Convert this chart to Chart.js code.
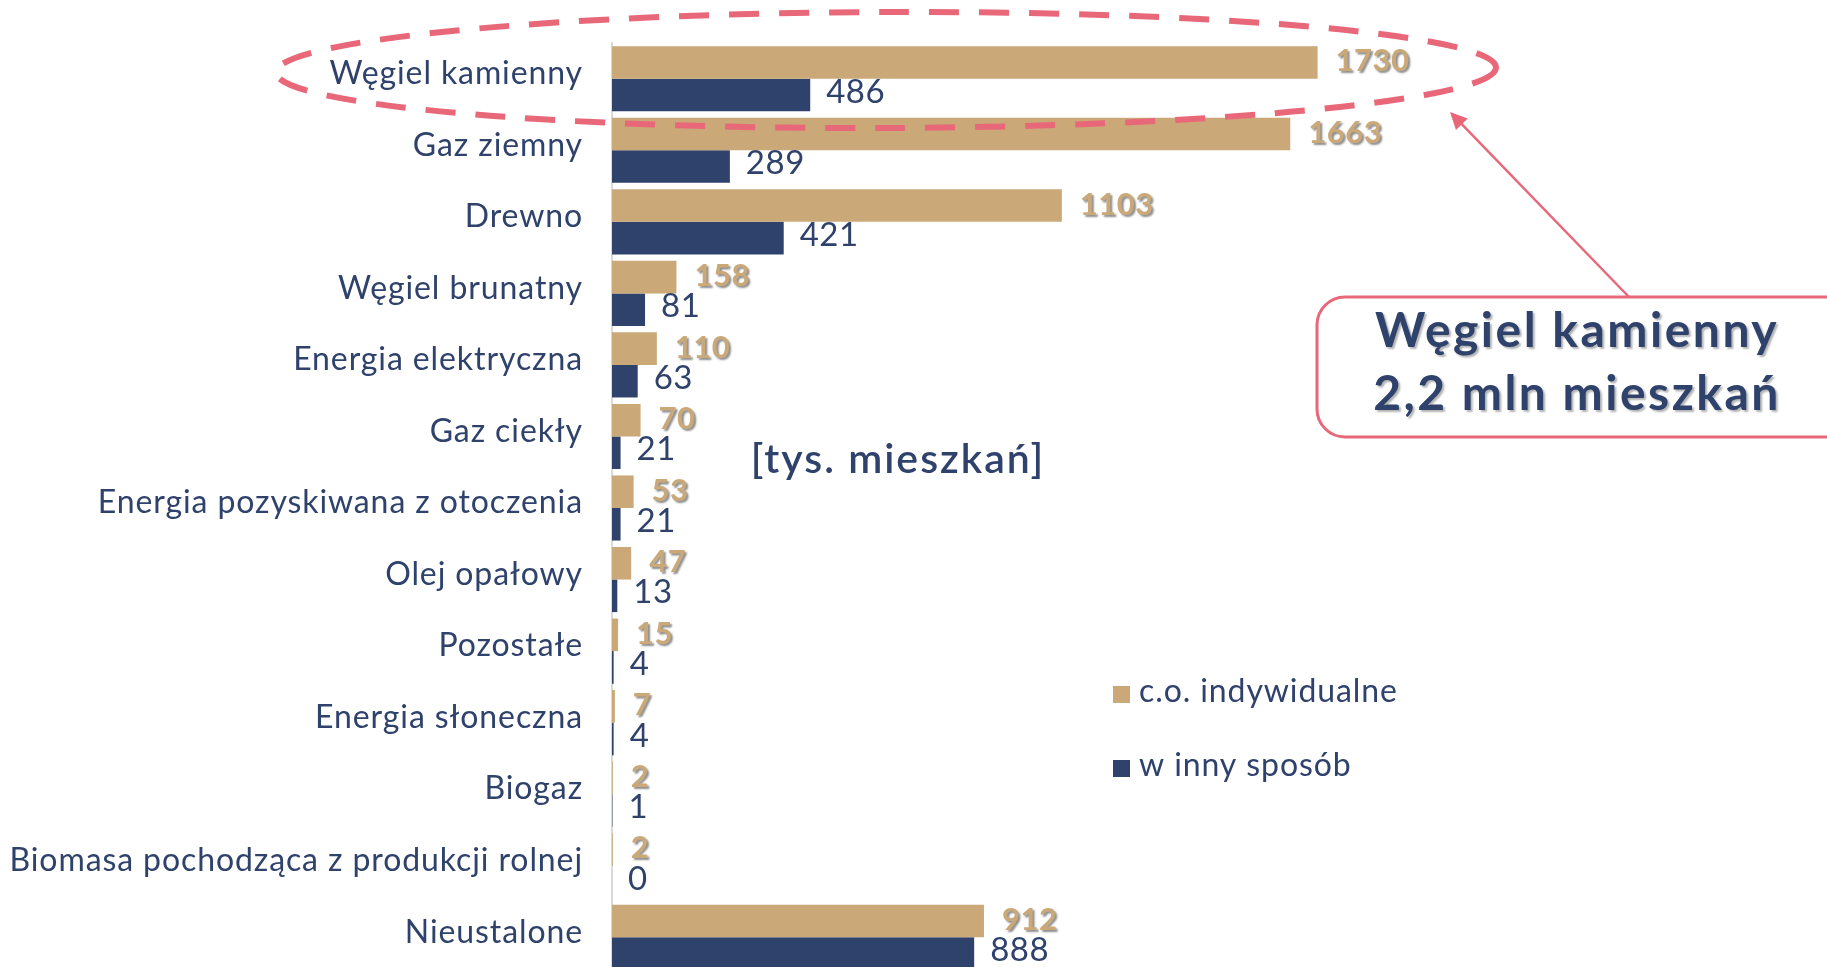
<!DOCTYPE html>
<html>
<head>
<meta charset="utf-8">
<script src="https://cdn.jsdelivr.net/npm/chart.js@4"></script>
<style>
  html, body { margin: 0; padding: 0; background: #fff; overflow: hidden; }
  #wrap { position: relative; width: 1827px; height: 975px; }
</style>
</head>
<body>
<div id="wrap"><canvas id="barChart"></canvas></div>
<script>
const categories = [
  "Węgiel kamienny", "Gaz ziemny", "Drewno", "Węgiel brunatny",
  "Energia elektryczna", "Gaz ciekły", "Energia pozyskiwana z otoczenia",
  "Olej opałowy", "Pozostałe", "Energia słoneczna", "Biogaz",
  "Biomasa pochodząca z produkcji rolnej", "Nieustalone"
];
const coIndywidualne = [1730, 1663, 1103, 158, 110, 70, 53, 47, 15, 7, 2, 2, 912];
const wInnySposob = [486, 289, 421, 81, 63, 21, 21, 13, 4, 4, 1, 0, 888];
const seriesNames = ["c.o. indywidualne", "w inny sposób"];

const GOLD = "#caa878";
const NAVY = "#2f426c";
const PINK = "#e8687a";
const FONT = "Lato, 'Open Sans', sans-serif";

// odstęp liter dla całego płótna
const spacing = {
  id: "spacing",
  beforeDraw(chart) {
    chart.ctx.letterSpacing = "0.9px";
  }
};

// etykiety wartości przy słupkach
const valueLabels = {
  id: "valueLabels",
  afterDatasetsDraw(chart) {
    const ctx = chart.ctx;
    chart.data.datasets.forEach((ds, di) => {
      const meta = chart.getDatasetMeta(di);
      meta.data.forEach((bar, i) => {
        ctx.save();
        ctx.textAlign = "left";
        ctx.textBaseline = "middle";
        ctx.letterSpacing = "0.5px";
        if (di === 0) {
          ctx.font = "bold 31px " + FONT;
          ctx.fillStyle = GOLD;
          ctx.shadowColor = "rgba(0,0,0,0.45)";
          ctx.shadowOffsetX = 2;
          ctx.shadowOffsetY = 2;
          ctx.shadowBlur = 2;
          ctx.fillText(String(ds.data[i]), bar.x + 18, bar.y - 1);
        } else {
          ctx.font = "33px " + FONT;
          ctx.fillStyle = NAVY;
          ctx.fillText(String(ds.data[i]), bar.x + 16, bar.y - 3);
        }
        ctx.restore();
      });
    });
  }
};

// legenda, podpis jednostek i adnotacja
const extras = {
  id: "extras",
  afterDraw(chart) {
    const ctx = chart.ctx;
    ctx.save();
    // legenda
    const colors = [GOLD, NAVY];
    seriesNames.forEach((name, i) => {
      const y = 695 + i * 74;
      ctx.fillStyle = colors[i];
      ctx.fillRect(1113, y - 9, 17, 17);
      ctx.fillStyle = NAVY;
      ctx.font = "32px " + FONT;
      ctx.letterSpacing = "0.9px";
      ctx.textBaseline = "middle";
      ctx.textAlign = "left";
      ctx.fillText(name, 1139, y - 3);
    });

    // jednostka
    ctx.font = "600 41px " + FONT;
    ctx.letterSpacing = "2px";
    ctx.fillStyle = NAVY;
    ctx.textAlign = "center";
    ctx.fillText("[tys. mieszkań]", 898, 460);

    // elipsa przerywana
    ctx.strokeStyle = PINK;
    ctx.lineWidth = 6;
    ctx.setLineDash([30, 20]);
    ctx.beginPath();
    ctx.ellipse(886, 70, 610, 58, -0.004, 0, Math.PI * 2);
    ctx.stroke();
    ctx.setLineDash([]);

    // strzałka
    const x0 = 1629, y0 = 297, x1 = 1450, y1 = 112;
    const ang = Math.atan2(y0 - y1, x0 - x1);
    ctx.lineWidth = 2.5;
    ctx.beginPath();
    ctx.moveTo(x0, y0);
    ctx.lineTo(x1 + 12 * Math.cos(ang), y1 + 12 * Math.sin(ang));
    ctx.stroke();
    ctx.fillStyle = PINK;
    ctx.beginPath();
    ctx.moveTo(x1, y1);
    ctx.lineTo(x1 + 19 * Math.cos(ang - 0.45), y1 + 19 * Math.sin(ang - 0.45));
    ctx.lineTo(x1 + 19 * Math.cos(ang + 0.45), y1 + 19 * Math.sin(ang + 0.45));
    ctx.closePath();
    ctx.fill();

    // ramka
    ctx.fillStyle = "#fff";
    ctx.lineWidth = 3;
    ctx.beginPath();
    ctx.roundRect(1317, 297, 560, 140, 28);
    ctx.fill();
    ctx.stroke();
    ctx.fillStyle = NAVY;
    ctx.font = "bold 48px " + FONT;
    ctx.letterSpacing = "2.5px";
    ctx.textAlign = "center";
    ctx.textBaseline = "alphabetic";
    ctx.shadowColor = "rgba(0,0,0,0.3)";
    ctx.shadowOffsetX = 2;
    ctx.shadowOffsetY = 2;
    ctx.shadowBlur = 2;
    ctx.fillText("Węgiel kamienny", 1577, 347);
    ctx.fillText("2,2 mln mieszkań", 1577, 410);
    ctx.restore();
  }
};

const ctx = document.getElementById("barChart").getContext("2d");
const barChart = new Chart(ctx, {
  type: "bar",
  data: {
    labels: categories,
    datasets: [
      { label: seriesNames[0], data: coIndywidualne, backgroundColor: GOLD },
      { label: seriesNames[1], data: wInnySposob, backgroundColor: NAVY }
    ]
  },
  options: {
    indexAxis: "y",
    responsive: true,
    maintainAspectRatio: false,
    animation: false,
    layout: { padding: { top: 43, bottom: 2, left: 0, right: 73 } },
    datasets: { bar: { categoryPercentage: 0.91, barPercentage: 1.0 } },
    scales: {
      x: { display: false, min: 0, max: 2800 },
      y: {
        grid: { display: false, drawTicks: false },
        border: { display: true, color: "#d9d9d9", width: 2 },
        ticks: { color: NAVY, font: { family: FONT, size: 32 }, padding: 29, labelOffset: -5 },
        afterFit: (scale) => {
          scale.width = 612;
          scale.paddingTop = 0;
          scale.paddingBottom = 0;
        }
      }
    },
    plugins: { legend: { display: false }, tooltip: { enabled: false } }
  },
  plugins: [spacing, valueLabels, extras]
});
</script>
</body>
</html>
